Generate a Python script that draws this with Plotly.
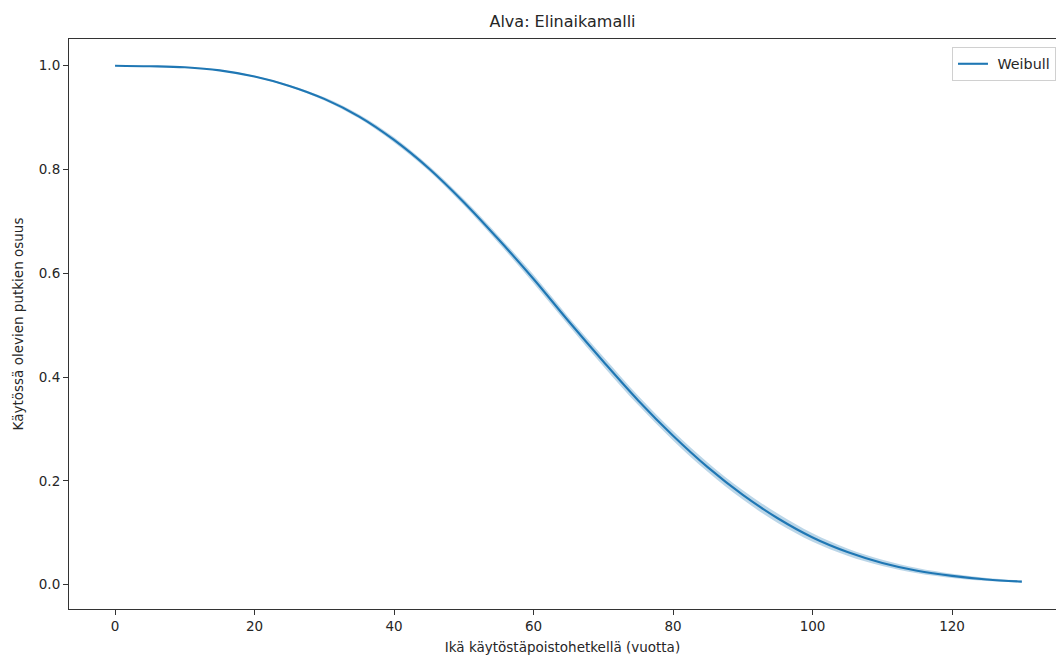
import plotly.graph_objects as go

# Survival curve read at 5-year steps: share of pipes still in service
age_years = [0, 5, 10, 15, 20, 25, 30, 35, 40, 45, 50, 55, 60, 65,
             70, 75, 80, 85, 90, 95, 100, 105, 110, 115, 120, 125, 130]
weibull_share = [1.000, 0.999, 0.997, 0.991, 0.979, 0.961, 0.936, 0.902,
                 0.857, 0.802, 0.737, 0.665, 0.589, 0.508, 0.430, 0.355,
                 0.287, 0.226, 0.173, 0.128, 0.091, 0.063, 0.042, 0.027,
                 0.017, 0.010, 0.006]
# Confidence band around the fitted curve
ci_lower = [1.000, 0.999, 0.9965, 0.990, 0.9775, 0.959, 0.933, 0.898,
            0.852, 0.797, 0.731, 0.658, 0.581, 0.500, 0.421, 0.346,
            0.278, 0.217, 0.164, 0.119, 0.083, 0.056, 0.036, 0.022,
            0.013, 0.007, 0.004]
ci_upper = [1.000, 0.999, 0.9975, 0.992, 0.9805, 0.963, 0.939, 0.906,
            0.862, 0.807, 0.743, 0.672, 0.597, 0.516, 0.439, 0.364,
            0.296, 0.235, 0.182, 0.137, 0.099, 0.070, 0.048, 0.032,
            0.021, 0.013, 0.008]

x_ticks = [0, 20, 40, 60, 80, 100, 120]
y_ticks = [0.0, 0.2, 0.4, 0.6, 0.8, 1.0]

BLUE = "#1f77b4"
FONT = "DejaVu Sans"
AXIS_COLOR = "#333333"
TEXT_COLOR = "#262626"

fig = go.Figure()

# Shaded confidence interval
fig.add_trace(go.Scatter(
    x=age_years, y=ci_upper, mode="lines", line=dict(width=0, shape="spline"),
    showlegend=False, hoverinfo="skip"))
fig.add_trace(go.Scatter(
    x=age_years, y=ci_lower, mode="lines", line=dict(width=0, shape="spline"),
    fill="tonexty", fillcolor="rgba(31,119,180,0.3)",
    showlegend=False, hoverinfo="skip"))

# Fitted Weibull survival function
fig.add_trace(go.Scatter(
    x=age_years, y=weibull_share, mode="lines", name=" Weibull",
    line=dict(color=BLUE, width=2.1, shape="spline")))

fig.update_layout(
    width=1056, height=655,
    margin=dict(l=69, r=0, t=39, b=46),
    paper_bgcolor="white", plot_bgcolor="white",
    font=dict(family=FONT, size=13.5, color=TEXT_COLOR),
    title=dict(text="Alva: Elinaikamalli", x=0.5, xref="paper",
               y=1, yref="container", yanchor="top", pad=dict(t=16),
               font=dict(family=FONT, size=16, color=TEXT_COLOR)),
    showlegend=True,
    legend=dict(x=0.8946, xanchor="left", y=0.986, yanchor="top",
                bgcolor="rgba(255,255,255,0.8)", bordercolor="#d0d0d0",
                borderwidth=1, font=dict(family=FONT, size=14.3, color=TEXT_COLOR)),
)

fig.update_xaxes(
    range=[-6.6, 134.9], tickvals=x_ticks, ticktext=[str(v) for v in x_ticks],
    showgrid=False, zeroline=False,
    showline=True, linecolor=AXIS_COLOR, linewidth=1.1, mirror=True,
    ticks="outside", ticklen=5, tickwidth=1.1, tickcolor=AXIS_COLOR,
    title=dict(text="Ikä käytöstäpoistohetkellä (vuotta)", standoff=9,
               font=dict(family=FONT, size=13.5, color=TEXT_COLOR)),
)
fig.update_yaxes(
    range=[-0.0468, 1.0514], tickvals=y_ticks,
    ticktext=[f"{v:.1f}" for v in y_ticks],
    showgrid=False, zeroline=False,
    showline=True, linecolor=AXIS_COLOR, linewidth=1.1, mirror=False,
    ticks="outside", ticklen=5, tickwidth=1.1, tickcolor=AXIS_COLOR,
    title=dict(text="Käytössä olevien putkien osuus", standoff=12,
               font=dict(family=FONT, size=13.5, color=TEXT_COLOR)),
)

fig.write_html("out.html")
